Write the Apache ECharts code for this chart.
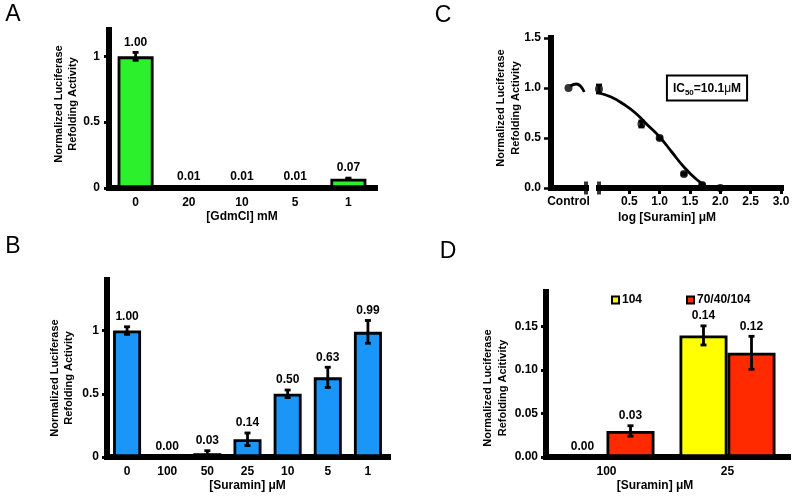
<!DOCTYPE html>
<html><head><meta charset="utf-8">
<script src="https://cdn.jsdelivr.net/npm/echarts@6/dist/echarts.min.js"></script>
<style>html,body{margin:0;padding:0;background:#fff}#c{width:794px;height:500px}</style>
</head><body><div id="c"></div>
<script>
// ---------- Panel A ----------
const catsA = ['0', '20', '10', '5', '1'];
const valsA = [1.00, 0.01, 0.01, 0.01, 0.07];
const errA  = [0.03, 0, 0, 0, 0.005];
const yTicksA = [0, 0.5, 1];
// ---------- Panel B ----------
const catsB = ['0', '100', '50', '25', '10', '5', '1'];
const valsB = [1.00, 0.00, 0.03, 0.14, 0.50, 0.63, 0.99];
const errB  = [0.03, 0, 0.02, 0.05, 0.03, 0.08, 0.09];
const yTicksB = [0, 0.5, 1];
// ---------- Panel C ----------
const logConcC = [0, 0.7, 1.0, 1.4, 1.7, 2.0];
const valsC    = [0.99, 0.64, 0.50, 0.14, 0.03, 0.00];
const errC     = [0.04, 0.03, 0.01, 0.01, 0.01, 0];
const controlX = [0.5];
const controlY = [1.00];
const fitX = [0, 0.2, 0.4, 0.6, 0.8, 1.0, 1.2, 1.4, 1.6, 1.8];
const fitY = [0.95, 0.91, 0.84, 0.75, 0.63, 0.51, 0.36, 0.21, 0.09, 0.0];
const ctrlFitX = [0.55, 0.72, 0.95];
const ctrlFitY = [1.02, 1.04, 0.96];
const xTicksC = [0.5, 1.0, 1.5, 2.0, 2.5, 3.0];
const yTicksC = [0, 0.5, 1.0, 1.5];
// ---------- Panel D ----------
const catsD = ['100', '25'];
const vals104 = [0.00, 0.14];
const err104  = [0, 0.011];
const vals70  = [0.03, 0.12];
const err70   = [0.006, 0.019];
const yTicksD = [0, 0.05, 0.10, 0.15];

const FONT = 'Liberation Sans, Arial, sans-serif';
const BOLD12 = 'bold 12px ' + FONT;
const BW_D = 48;
const AXW = 6;
const LW = 2.8;

function errRender(offset, showLabel) {
  return function (params, api) {
    const xi = api.value(0), v = api.value(1), e = api.value(2);
    const c = api.coord([xi, v]);
    const x = c[0] + offset;
    const top = api.coord([xi, v + e])[1];
    const bot = api.coord([xi, v - e])[1];
    const ch = [];
    if (e > 0) {
      ch.push({type: 'line', shape: {x1: x, y1: top, x2: x, y2: bot}, style: {stroke: '#000', lineWidth: LW}});
      ch.push({type: 'line', shape: {x1: x - 3, y1: top, x2: x + 3, y2: top}, style: {stroke: '#000', lineWidth: LW}});
      ch.push({type: 'line', shape: {x1: x - 3, y1: bot, x2: x + 3, y2: bot}, style: {stroke: '#000', lineWidth: LW}});
    }
    if (showLabel) {
      ch.push({type: 'text', x: x, y: top - 4,
        style: {text: v.toFixed(2), fill: '#000', font: BOLD12, align: 'center', verticalAlign: 'bottom'}});
    }
    return {type: 'group', children: ch};
  };
}
function triples(vals, errs) { return vals.map((v, i) => [i, v, errs[i]]); }

const axisLine = () => ({show: true, onZero: false, lineStyle: {color: '#000', width: AXW, cap: 'square'}});
const lbl = (extra) => Object.assign({color: '#000', fontWeight: 'bold', fontSize: 12, fontFamily: FONT}, extra || {});
const xName = (name, pad) => ({name: name, nameLocation: 'middle', nameGap: 23,
  nameTextStyle: {color: '#000', fontWeight: 'bold', fontSize: 12, fontFamily: FONT, padding: pad || 0}});
const ytitle = (x, y, text, lh) => ({type: 'text', x: x, y: y, rotation: Math.PI / 2,
  style: {text: text, font: 'bold 11px ' + FONT, lineHeight: lh, fill: '#000', align: 'center', verticalAlign: 'middle'}});
const letter = (x, y, t) => ({type: 'text', x: x, y: y,
  style: {text: t, font: '23px ' + FONT, fill: '#000', align: 'center', verticalAlign: 'middle'}});
const barStyle = (c) => ({color: c, borderColor: '#000', borderWidth: LW});

const chart = echarts.init(document.getElementById('c'), null, {renderer: 'canvas'});
const option = {
  animation: false,
  backgroundColor: '#fff',
  grid: [
    {left: 109, top: 30, width: 266, height: 158, containLabel: false, outerBoundsMode: 'none'},
    {left: 107, top: 280, width: 281, height: 177, containLabel: false, outerBoundsMode: 'none'},
    {left: 551, top: 38, width: 35, height: 150, containLabel: false, outerBoundsMode: 'none'},
    {left: 599, top: 38, width: 182, height: 150, containLabel: false, outerBoundsMode: 'none'},
    {left: 546, top: 292, width: 242, height: 165, containLabel: false, outerBoundsMode: 'none'}
  ],
  xAxis: [
    Object.assign({type: 'category', gridIndex: 0, data: catsA, axisLine: axisLine(), axisTick: {show: false},
      axisLabel: lbl({margin: 9, interval: 0}), splitLine: {show: false}}, xName('[GdmCl] mM')),
    Object.assign({type: 'category', gridIndex: 1, data: catsB, axisLine: axisLine(), axisTick: {show: false},
      axisLabel: lbl({margin: 9, interval: 0}), splitLine: {show: false}}, xName('[Suramin] μM')),
    {type: 'value', gridIndex: 2, min: 0, max: 1, axisLine: axisLine(), axisTick: {show: false},
      axisLabel: lbl({margin: 8, customValues: controlX, formatter: () => 'Control'}), splitLine: {show: false}},
    {type: 'value', gridIndex: 3, min: 0, max: 3, interval: 0.5, axisLine: axisLine(),
      axisTick: {show: true, length: 6, customValues: xTicksC, lineStyle: {color: '#000', width: 3}},
      axisLabel: lbl({margin: 8, customValues: xTicksC, formatter: v => v.toFixed(1), showMaxLabel: true}), splitLine: {show: false}},
    Object.assign({type: 'category', gridIndex: 4, data: catsD, axisLine: axisLine(), axisTick: {show: false},
      axisLabel: lbl({margin: 9, interval: 0}), splitLine: {show: false}}, xName('[Suramin] μM', [0, 24, 0, 0]))
  ],
  yAxis: [
    {type: 'value', gridIndex: 0, min: 0, max: 1.2, axisLine: axisLine(),
      axisTick: {show: true, length: 5, customValues: yTicksA, lineStyle: {color: '#000', width: 3}},
      axisLabel: lbl({margin: 9, customValues: yTicksA, formatter: v => String(v)}), splitLine: {show: false}},
    {type: 'value', gridIndex: 1, min: 0, max: 1.4, axisLine: axisLine(),
      axisTick: {show: true, length: 5, customValues: yTicksB, lineStyle: {color: '#000', width: 3}},
      axisLabel: lbl({margin: 8, customValues: yTicksB, formatter: v => String(v)}), splitLine: {show: false}},
    {type: 'value', gridIndex: 2, min: 0, max: 1.5, interval: 0.5, axisLine: axisLine(),
      axisTick: {show: true, length: 7, customValues: yTicksC, lineStyle: {color: '#000', width: 2.5}},
      axisLabel: lbl({margin: 10, customValues: yTicksC, formatter: v => v.toFixed(1)}), splitLine: {show: false}},
    {type: 'value', gridIndex: 3, min: 0, max: 1.5, interval: 0.5, show: false, splitLine: {show: false}},
    {type: 'value', gridIndex: 4, min: 0, max: 0.19, axisLine: axisLine(),
      axisTick: {show: true, length: 5, customValues: yTicksD, lineStyle: {color: '#000', width: 3}},
      axisLabel: lbl({margin: 8, customValues: yTicksD, formatter: v => v.toFixed(2)}), splitLine: {show: false}}
  ],
  legend: {
    data: ['104', '70/40/104'], left: 606, top: 289, icon: 'rect', itemWidth: 7, itemHeight: 7, itemGap: 44,
    itemStyle: {borderColor: '#000', borderWidth: 2},
    textStyle: {color: '#000', fontWeight: 'bold', fontSize: 12, fontFamily: FONT, padding: [0, 0, 0, -2]}
  },
  series: [
    {type: 'bar', xAxisIndex: 0, yAxisIndex: 0, data: valsA, barWidth: 36, itemStyle: barStyle('#2bf02b')},
    {type: 'custom', xAxisIndex: 0, yAxisIndex: 0, data: triples(valsA, errA), renderItem: errRender(0, true), z: 5},
    {type: 'bar', xAxisIndex: 1, yAxisIndex: 1, data: valsB, barWidth: 28, itemStyle: barStyle('#1a95f8')},
    {type: 'custom', xAxisIndex: 1, yAxisIndex: 1, data: triples(valsB, errB), renderItem: errRender(0, true), z: 5},
    {type: 'scatter', xAxisIndex: 2, yAxisIndex: 2, data: controlX.map((x, i) => [x, controlY[i]]),
      symbol: 'circle', symbolSize: 8, itemStyle: {color: '#000'}},
    {type: 'line', xAxisIndex: 2, yAxisIndex: 2, data: ctrlFitX.map((x, i) => [x, ctrlFitY[i]]), smooth: true,
      showSymbol: false, lineStyle: {color: '#000', width: LW}},
    {type: 'scatter', xAxisIndex: 2, yAxisIndex: 2, data: [[1, 0]], symbol: 'rect', symbolSize: [4, 13],
      itemStyle: {color: '#000'}, z: 6},
    {type: 'line', xAxisIndex: 3, yAxisIndex: 3, data: fitX.map((x, i) => [x, fitY[i]]), smooth: true,
      showSymbol: false, lineStyle: {color: '#000', width: LW}},
    {type: 'scatter', xAxisIndex: 3, yAxisIndex: 3, data: logConcC.map((x, i) => [x, valsC[i]]),
      symbol: 'circle', symbolSize: 8, itemStyle: {color: '#000'}, z: 4},
    {type: 'custom', xAxisIndex: 3, yAxisIndex: 3, data: logConcC.map((x, i) => [x, valsC[i], errC[i]]),
      renderItem: errRender(0, false), z: 5},
    {type: 'scatter', xAxisIndex: 3, yAxisIndex: 3, data: [[0, 0]], symbol: 'rect', symbolSize: [4, 13],
      itemStyle: {color: '#000'}, z: 6},
    {name: '104', type: 'bar', xAxisIndex: 4, yAxisIndex: 4, data: vals104, barWidth: BW_D, barGap: '0%',
      itemStyle: barStyle('#ffff00')},
    {name: '70/40/104', type: 'bar', xAxisIndex: 4, yAxisIndex: 4, data: vals70, barWidth: BW_D, barGap: '0%',
      itemStyle: barStyle('#ff2a00')},
    {type: 'custom', xAxisIndex: 4, yAxisIndex: 4, data: triples(vals104, err104), renderItem: errRender(-BW_D / 2, true), z: 5},
    {type: 'custom', xAxisIndex: 4, yAxisIndex: 4, data: triples(vals70, err70), renderItem: errRender(BW_D / 2, true), z: 5}
  ],
  graphic: [
    letter(13, 15, 'A'),
    letter(13, 247, 'B'),
    letter(443, 16, 'C'),
    letter(448, 252, 'D'),
    ytitle(66, 104, 'Normalized Luciferase\nRefolding Activity', 14),
    ytitle(62, 378, 'Normalized Luciferase\nRefolding Activity', 14),
    ytitle(508, 108, 'Normalized Luciferase\nRefolding Activity', 15),
    ytitle(495, 388, 'Normalized Luciferase\nRefolding Acitivity', 15),
    {type: 'text', x: 667, y: 218,
      style: {text: 'log [Suramin] μM', font: BOLD12, fill: '#000', align: 'center', verticalAlign: 'middle'}},
    {type: 'text', x: 707, y: 88,
      style: {text: 'IC{s|50}=10.1{m|μ}M', font: BOLD12, fill: '#000', align: 'center', verticalAlign: 'middle',
        lineHeight: 16, padding: [4, 5, 3, 5], borderColor: '#000', borderWidth: 2, backgroundColor: '#fff',
        rich: {s: {font: 'bold 8px ' + FONT, fill: '#000', verticalAlign: 'bottom', lineHeight: 16, padding: [5, 0, 0, 0]},
               m: {font: '12px ' + FONT, fill: '#000', lineHeight: 16}}}}
  ]
};
chart.setOption(option);
</script>
</body></html>
